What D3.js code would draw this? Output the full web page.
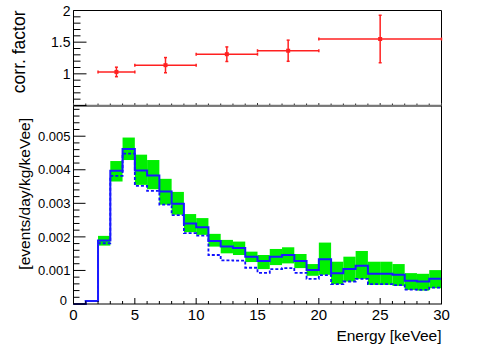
<!DOCTYPE html>
<html><head><meta charset="utf-8">
<script src="https://cdn.jsdelivr.net/npm/d3@7"></script>
<style>
html,body{margin:0;padding:0;background:#fff;}
svg text{font-family:"Liberation Sans",Arial,Helvetica,sans-serif;fill:#000;}
</style></head>
<body><svg id="c" width="491" height="354"></svg>
<script>
// ---- data ----
const binEdges = d3.range(0, 31);           // 1 keVee bins 0..30
const solidValues = [0,0.00009,0.00189,0.00397,0.00462,0.00398,0.00383,0.00335,0.00299,0.00240,
  0.00229,0.00188,0.00171,0.00167,0.00141,0.00128,0.00141,0.00146,0.00128,0.00101,
  0.00133,0.00092,0.00104,0.00114,0.00090,0.00090,0.00087,0.00069,0.00067,0.00075];
const dashedValues = [0,0.00009,0.00181,0.00382,0.00448,0.00352,0.00337,0.00296,0.00265,0.00211,
  0.00204,0.00146,0.00130,0.00129,0.00108,0.00093,0.00104,0.00107,0.00093,0.00075,
  0.00086,0.00059,0.00067,0.00075,0.00059,0.00059,0.00056,0.00043,0.00042,0.00049];
const bandUpper = [null,null,0.00203,0.00426,0.00496,0.00445,0.00429,0.00373,0.00334,0.00268,
  0.00256,0.00209,0.00191,0.00186,0.00156,0.00146,0.00164,0.00169,0.00149,0.00119,
  0.00183,0.00126,0.00141,0.00158,0.00126,0.00126,0.00119,0.00092,0.00090,0.00101];
const bandLower = [null,null,0.00174,0.00365,0.00429,0.00355,0.00342,0.00296,0.00266,0.00214,
  0.00206,0.00171,0.00151,0.00146,0.00125,0.00104,0.00116,0.00121,0.00107,0.00084,
  0.00087,0.00059,0.00067,0.00075,0.00057,0.00057,0.00054,0.00042,0.00040,0.00047];
const corrLow = [2, 5, 10, 15, 20];
const corrHigh = [5, 10, 15, 20, 30];
const corrValues = [1.03, 1.137, 1.31, 1.365, 1.55];
const corrErrors = [0.075, 0.12, 0.115, 0.167, 0.375];
const xTickLabels = [0, 5, 10, 15, 20, 25, 30];
const topYTicks = [1, 1.5, 2];
const botYTicks = [0, 0.001, 0.002, 0.003, 0.004, 0.005];

// ---- layout ----
const svg = d3.select("#c");
const x = d3.scaleLinear().domain([0, 30]).range([73.5, 441.5]);
const yT = d3.scaleLinear().domain([0.5, 2]).range([105.5, 10.5]);
const yB = d3.scaleLinear().domain([0, 0.0059]).range([304, 106]);

// ---- bottom pad ----
const gB = svg.append("g");
// green band
binEdges.slice(0, 30).forEach((e, i) => {
  if (bandUpper[i] == null) return;
  gB.append("rect")
    .attr("x", x(e)).attr("width", x(e + 1) - x(e))
    .attr("y", yB(bandUpper[i])).attr("height", yB(bandLower[i]) - yB(bandUpper[i]))
    .attr("fill", "#00f000");
});
const stepLine = d3.line().x(d => x(d[0])).y(d => yB(d[1])).curve(d3.curveStepAfter);
const pts = vals => vals.map((v, i) => [binEdges[i], v]).concat([[30, vals[vals.length - 1]]]);
gB.append("path").attr("d", stepLine(pts(dashedValues)))
  .attr("fill", "none").attr("stroke", "#1010ff").attr("stroke-width", 1.8).attr("stroke-dasharray", "3,2");
gB.append("path").attr("d", stepLine(pts(solidValues)))
  .attr("fill", "none").attr("stroke", "#1a1aff").attr("stroke-width", 2);

// frame
gB.append("rect").attr("x", 73.5).attr("y", 106).attr("width", 368).attr("height", 198)
  .attr("fill", "none").attr("stroke", "#000").attr("stroke-width", 1);
// x ticks
d3.range(0, 31).forEach(v => {
  const len = v % 5 === 0 ? 6 : 3;
  gB.append("line").attr("x1", x(v)).attr("x2", x(v)).attr("y1", 304).attr("y2", 304 - len)
    .attr("stroke", "#000");
});
xTickLabels.forEach(v => {
  gB.append("text").attr("x", x(v)).attr("y", 319.5).attr("text-anchor", "middle")
    .attr("font-size", 15).text(v);
});
// y ticks
d3.range(0, 30).forEach(k => {
  const v = k * 0.0002;
  if (v > 0.0059) return;
  const len = k % 5 === 0 ? 12 : 6;
  gB.append("line").attr("x1", 73.5).attr("x2", 73.5 + len).attr("y1", yB(v)).attr("y2", yB(v))
    .attr("stroke", "#000");
});
botYTicks.forEach(v => {
  gB.append("text").attr("x", v === 0 ? 67 : 70.5).attr("y", yB(v)).attr("dy", v === 0 ? "0.1em" : "0.36em")
    .attr("text-anchor", "end").attr("font-size", 13).text(v === 0 ? "0" : d3.format(".3f")(v));
});
gB.append("text").attr("x", 441.5).attr("y", 341).attr("text-anchor", "end")
  .attr("font-size", 15.5).text("Energy [keVee]");
gB.append("text").attr("transform", "translate(30,118) rotate(-90)").attr("text-anchor", "end")
  .attr("font-size", 15.5).text("[events/day/kg/keVee]");

// ---- top pad ----
const gT = svg.append("g");
gT.append("line").attr("x1", 73.5).attr("x2", 441.5).attr("y1", 105.5).attr("y2", 105.5)
  .attr("stroke", "#777").attr("stroke-width", 1.5);
gT.append("path").attr("d", `M73.5,105.5V10.5H441.5V105.5`).attr("fill", "none").attr("stroke", "#000");
d3.range(0, 31).forEach(v => {
  const len = v % 5 === 0 ? 2 : 1.5;
  gT.append("line").attr("x1", x(v)).attr("x2", x(v)).attr("y1", 105).attr("y2", 105 - len)
    .attr("stroke", "#333");
});
d3.range(5, 21).forEach(k => {
  const v = k / 10;
  const len = k % 5 === 0 ? 13 : 7;
  gT.append("line").attr("x1", 73.5).attr("x2", 73.5 + len).attr("y1", yT(v)).attr("y2", yT(v))
    .attr("stroke", "#000");
});
topYTicks.forEach(v => {
  gT.append("text").attr("x", 70.5).attr("y", yT(v)).attr("dy", "0.36em").attr("text-anchor", "end")
    .attr("font-size", 14).text(v);
});
gT.append("text").attr("transform", "translate(24.5,10.5) rotate(-90)").attr("text-anchor", "end")
  .attr("font-size", 17.5).text("corr. factor");

// error bars
const red = "#ff2020";
corrValues.forEach((v, i) => {
  const c = (corrLow[i] + corrHigh[i]) / 2;
  const cx = x(c), cy = yT(v);
  const g = gT.append("g").attr("stroke", red).attr("stroke-width", 1.5);
  g.append("line").attr("x1", x(corrLow[i])).attr("x2", x(corrHigh[i])).attr("y1", cy).attr("y2", cy);
  g.append("line").attr("x1", cx).attr("x2", cx).attr("y1", yT(v + corrErrors[i])).attr("y2", yT(v - corrErrors[i]));
  [x(corrLow[i]), x(corrHigh[i])].forEach(ex =>
    g.append("line").attr("x1", ex).attr("x2", ex).attr("y1", cy - 1.5).attr("y2", cy + 1.5));
  [yT(v + corrErrors[i]), yT(v - corrErrors[i])].forEach(ey =>
    g.append("line").attr("x1", cx - 1.5).attr("x2", cx + 1.5).attr("y1", ey).attr("y2", ey));
  gT.append("rect").attr("x", cx - 2).attr("y", cy - 2).attr("width", 4).attr("height", 4).attr("fill", red);
});
</script></body></html>
